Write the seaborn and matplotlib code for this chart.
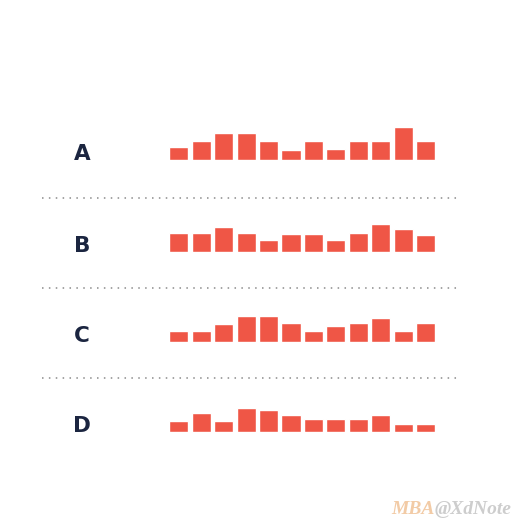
import numpy as np
import pandas as pd
import matplotlib.pyplot as plt
import seaborn as sns

# bar heights (same scale for all rows)
rows = ['A', 'B', 'C', 'D']
values_a = [13, 19, 27, 27, 19, 10, 19, 11, 19, 19, 33, 19]
values_b = [19, 19, 25, 19, 12, 18, 18, 12, 19, 28, 23, 17]
values_c = [11, 11, 18, 26, 26, 19, 11, 16, 19, 24, 11, 19]
values_d = [11, 19, 11, 24, 22, 17, 13, 13, 13, 17, 8, 8]
periods = list(range(1, 13))

BAR = '#ef5646'
LABEL = '#1b2540'

sns.set_theme(style='white')
plt.rcParams['font.family'] = ['DejaVu Sans']

W = H = 532
fig = plt.figure(figsize=(W / 100, H / 100), dpi=100)
fig.patch.set_facecolor('white')

# background axes in pixel coords for labels / separators
bg = fig.add_axes([0, 0, 1, 1])
bg.set_xlim(0, W)
bg.set_ylim(H, 0)
bg.axis('off')

baselines = [160, 252.3, 342.3, 432.3]
separators = [197.5, 287.5, 377.5]
ymax = 35

df = pd.DataFrame({'row': np.repeat(rows, len(periods)),
                   'period': periods * len(rows),
                   'value': values_a + values_b + values_c + values_d})

left, width = 167.6, 269.2
for row, base in zip(rows, baselines):
    ax = fig.add_axes([left / W, (H - base) / H, width / W, ymax / H])
    sns.barplot(data=df[df['row'] == row], x='period', y='value',
                color=BAR, saturation=1, width=0.85, ax=ax)
    ax.set_xlim(-0.5, 11.5)
    ax.set_ylim(0, ymax)
    ax.axis('off')
    ax.patch.set_alpha(0)
    bg.text(82, base - 6.5, row, ha='center', va='center', fontsize=15.5,
            fontweight='bold', color=LABEL)

for y in separators:
    bg.plot([42, 458], [y, y], color='#8a8a8a', lw=1.1,
            linestyle=(0, (1, 3.5)))

# watermark
t1 = bg.text(391, 509, 'MBA', fontsize=14, fontstyle='italic',
             fontweight='bold', family='Liberation Serif', color='#f2cba6',
             va='center', ha='left')
fig.canvas.draw()
bb = t1.get_window_extent()
x2 = bg.transData.inverted().transform((bb.x1, bb.y0))[0]
bg.text(x2, 509, '@XdNote', fontsize=14, fontstyle='italic',
        fontweight='bold', family='Liberation Serif', color='#cdcdcd',
        va='center', ha='left')

fig.savefig('out.png', dpi=100)
